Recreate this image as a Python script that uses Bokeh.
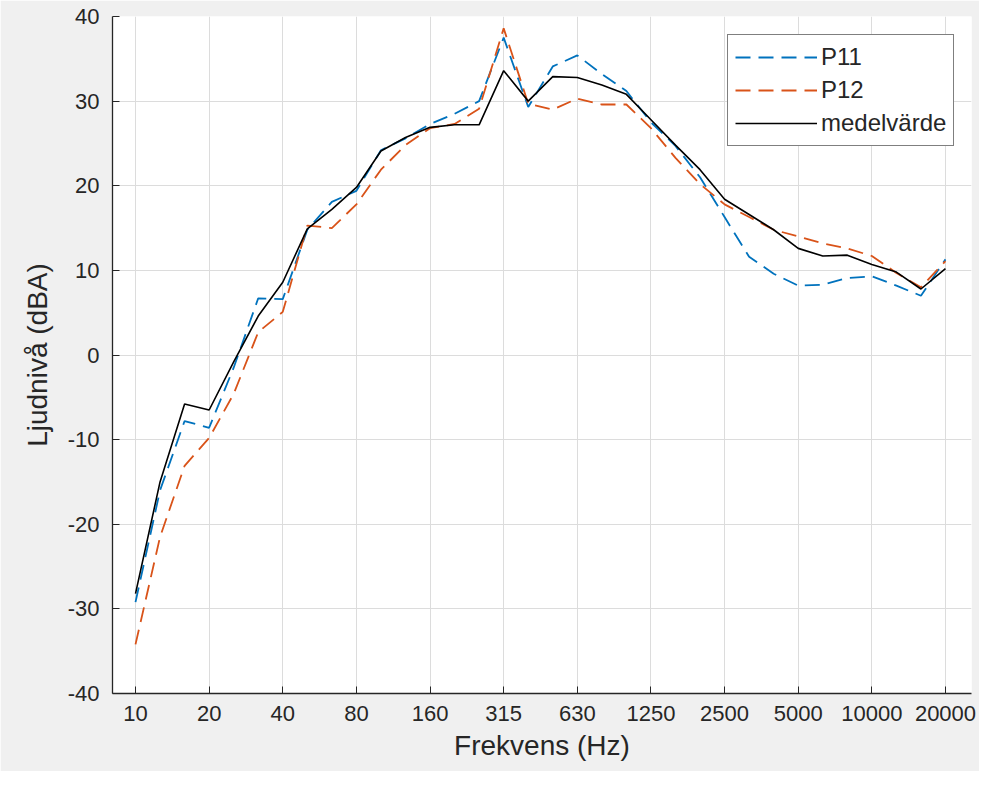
from bokeh.plotting import figure
from bokeh.models import Range1d, FixedTicker, Legend, LegendItem
from bokeh.embed import file_html
from bokeh.resources import INLINE

bands = ["10", "12.5", "16", "20", "25", "31.5", "40", "50", "63", "80", "100", "125",
         "160", "200", "250", "315", "400", "500", "630", "800", "1000", "1250", "1600",
         "2000", "2500", "3150", "4000", "5000", "6300", "8000", "10000", "12500",
         "16000", "20000"]

p11 = [-29.2, -16.0, -7.8, -8.6, -1.5, 6.7, 6.6, 14.8, 18.1, 19.4, 24.2, 25.6,
       27.3, 28.5, 30.0, 37.5, 29.3, 34.1, 35.4, 33.2, 31.2, 27.5, 24.7, 21.0,
       16.3, 11.6, 9.6, 8.2, 8.3, 9.1, 9.3, 8.2, 7.0, 11.3]

p12 = [-34.2, -21.5, -13.1, -9.8, -4.6, 2.7, 5.1, 15.3, 15.0, 17.8, 21.9, 24.8,
       26.8, 27.3, 29.1, 38.6, 29.7, 29.0, 30.3, 29.6, 29.6, 26.8, 23.3, 20.2,
       17.8, 16.3, 14.8, 14.0, 13.2, 12.6, 11.7, 9.7, 8.0, 11.1]

mean = [-28.2, -15.0, -5.8, -6.5, -0.8, 4.6, 8.6, 14.9, 17.2, 19.8, 24.1, 25.7,
        26.9, 27.2, 27.2, 33.6, 30.0, 32.9, 32.8, 31.9, 30.8, 27.8, 24.8, 21.9,
        18.4, 16.6, 14.8, 12.6, 11.7, 11.8, 10.7, 9.8, 7.8, 10.2]

tick_labels = ["10", "20", "40", "80", "160", "315", "630", "1250", "2500",
               "5000", "10000", "20000"]
y_ticks = [-40, -30, -20, -10, 0, 10, 20, 30, 40]
y_tick_labels = ["-40", "-30", "-20", "-10", "0", "10", "20", "30", "40"]

x = list(range(len(bands)))
tick_pos = [bands.index(t) for t in tick_labels]

FONT = "Liberation Sans"
TXT = "#262626"

p = figure(width=979, height=771, output_backend="svg", toolbar_location=None,
           x_range=Range1d(-0.937, 34.06), y_range=Range1d(-40, 40),
           min_border_left=112, min_border_right=8, min_border_top=16,
           min_border_bottom=78)
p.border_fill_color = "#f0f0f0"
p.background_fill_color = "white"
p.outline_line_color = None

l1 = p.line(x, p11, line_color="#0072BD", line_width=1.8, line_dash="15 8")
l2 = p.line(x, p12, line_color="#D95319", line_width=1.8, line_dash="15 8")
l3 = p.line(x, mean, line_color="black", line_width=1.6)

p.xaxis.ticker = FixedTicker(ticks=tick_pos)
p.xaxis.major_label_overrides = {pos: lab for pos, lab in zip(tick_pos, tick_labels)}
p.yaxis.ticker = FixedTicker(ticks=y_ticks)
p.yaxis.major_label_overrides = {v: lab for v, lab in zip(y_ticks, y_tick_labels)}

for ax in (p.xaxis[0], p.yaxis[0]):
    ax.axis_line_color = TXT
    ax.axis_line_width = 1.3
    ax.major_tick_in = 7
    ax.major_tick_out = 0
    ax.major_tick_line_color = TXT
    ax.minor_tick_line_color = None
    ax.major_label_text_font = FONT
    ax.major_label_text_font_size = "22px"
    ax.major_label_text_color = TXT
    ax.axis_label_text_font = FONT
    ax.axis_label_text_font_size = "28px"
    ax.axis_label_text_font_style = "normal"
    ax.axis_label_text_color = TXT

p.xaxis.axis_label = "Frekvens (Hz)"
p.yaxis.axis_label = "Ljudnivå (dBA)"
p.xaxis.major_label_standoff = 12
p.yaxis.major_label_standoff = 13
p.xaxis.axis_label_standoff = 6
p.yaxis.axis_label_standoff = 12

p.xgrid.ticker = FixedTicker(ticks=tick_pos)
p.ygrid.ticker = FixedTicker(ticks=y_ticks)
p.grid.grid_line_color = "#dcdcdc"
p.grid.grid_line_width = 1

legend = Legend(items=[LegendItem(label="P11", renderers=[l1]),
                       LegendItem(label="P12", renderers=[l2]),
                       LegendItem(label="medelvärde", renderers=[l3])],
                location=(615, 547))
legend.border_line_color = "black"
legend.border_line_width = 1.3
legend.background_fill_color = "white"
legend.background_fill_alpha = 1.0
legend.label_text_font = FONT
legend.label_text_font_size = "24px"
legend.label_text_color = TXT
legend.glyph_width = 82
legend.glyph_height = 30
legend.label_height = 30
legend.label_standoff = 4
legend.spacing = 3
legend.padding = 7
legend.margin = 0
p.add_layout(legend)

open("out.html", "w").write(file_html(p, INLINE))
